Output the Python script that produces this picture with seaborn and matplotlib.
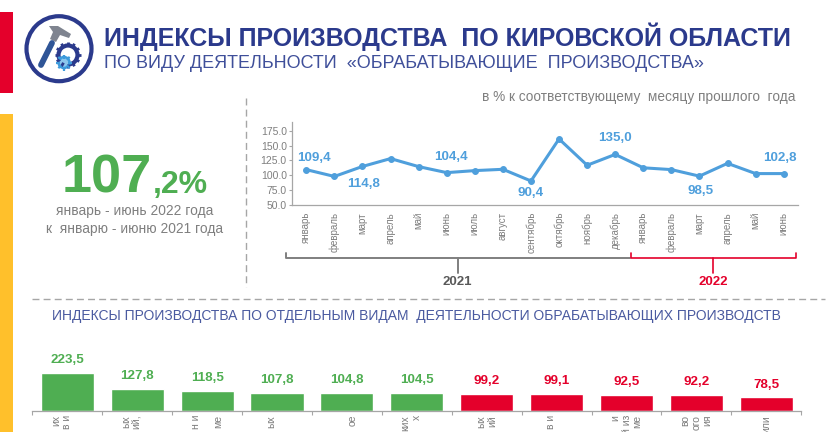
import numpy as np
import pandas as pd
import matplotlib
matplotlib.use("Agg")
import matplotlib.pyplot as plt
from matplotlib.patches import Circle, Rectangle, Polygon
import seaborn as sns

months = ["январь", "февраль", "март", "апрель", "май", "июнь", "июль", "август", "сентябрь",
          "октябрь", "ноябрь", "декабрь", "январь", "февраль", "март", "апрель", "май", "июнь"]
monthly_index = [109.4, 98.0, 114.8, 128.0, 114.5, 104.4, 107.8, 110.0, 90.4,
                 161.0, 116.8, 135.0, 112.5, 109.5, 98.5, 120.0, 102.8, 102.8]
y_ticks = [50, 75, 100, 125, 150, 175]

# the labels are cut off by the bottom edge of the picture, only these ends can be read
activity_labels = ["их\nв и\n ", "ых\nий,\n ", "н и\n \nме", "ых\n ", " \nое", "ких\nх\n ",
                   "ых\nий", "в и\n ", "и\nй из\nме", "во\nого\nия", "или"]
activity_index = [223.5, 127.8, 118.5, 107.8, 104.8, 104.5, 99.2, 99.1, 92.5, 92.2, 78.5]

NAVY = "#2B3A8C"
BLUE = "#4F9FDC"
GREEN = "#4FAE52"
RED = "#E4002B"
GRAY = "#7F7F7F"
AXIS = "#A6A6A6"

W, H = 832, 432

sns.set_theme(style="white")
plt.rcParams["font.family"] = ["Liberation Sans", "DejaVu Sans"]


def comma(v):
    return f"{v:.1f}".replace(".", ",")


def axes_px(fig, left, top, right, bottom):
    return fig.add_axes([left / W, 1 - bottom / H, (right - left) / W, (bottom - top) / H])


fig = plt.figure(figsize=(W / 100, H / 100), dpi=100)

# page layer in pixel coordinates
bg = fig.add_axes([0, 0, 1, 1])
bg.set_xlim(0, W)
bg.set_ylim(H, 0)
bg.axis("off")
bg.add_patch(Rectangle((0, 12), 13, 81, color=RED, lw=0))
bg.add_patch(Rectangle((0, 114), 13, 318, color="#FFC02B", lw=0))
bg.plot([245.5, 245.5], [98, 287], color=AXIS, lw=1, dashes=(5, 3))
bg.plot([32, 825], [298.5, 298.5], color=AXIS, lw=1, dashes=(5, 3))

# logo
bg.add_patch(Circle((59, 48.7), 32.5, fill=False, ec=NAVY, lw=3))
bg.plot([41, 52], [65, 43], color="#2F5597", lw=4.2, solid_capstyle="round")
bg.add_patch(Polygon([(49, 26), (58, 26), (71, 34), (69, 38), (60, 35), (56, 42), (50, 39), (53, 32)], color="#7F8490", lw=0))
for a in np.arange(0, 360, 30):
    r = np.radians(a)
    bg.plot([68 + 9 * np.cos(r), 68 + 13 * np.cos(r)], [55 + 9 * np.sin(r), 55 + 13 * np.sin(r)],
            color=NAVY, lw=2, solid_capstyle="butt")
bg.add_patch(Circle((68, 55), 9.5, fill=False, ec=NAVY, lw=3))
for a in np.arange(0, 360, 45):
    r = np.radians(a)
    bg.plot([64 + 4 * np.cos(r), 64 + 8 * np.cos(r)], [62.5 + 4 * np.sin(r), 62.5 + 8 * np.sin(r)],
            color="#3E9BDC", lw=1.6, solid_capstyle="butt")
bg.add_patch(Circle((64, 62.5), 5.5, fc="#8CC6EC", ec="#3E9BDC", lw=1.8))

# header
bg.text(104, 36.5, "ИНДЕКСЫ ПРОИЗВОДСТВА  ПО КИРОВСКОЙ ОБЛАСТИ", color=NAVY, fontsize=18,
        fontweight="bold", va="center", ha="left")
bg.text(104, 63.5, "ПО ВИДУ ДЕЯТЕЛЬНОСТИ  «ОБРАБАТЫВАЮЩИЕ  ПРОИЗВОДСТВА»", color="#3F4F9A", fontsize=13,
        va="center", ha="left")
bg.text(795, 97, "в % к соответствующему  месяцу прошлого  года", color=GRAY, fontsize=9.8,
        va="center", ha="right")

# big number
bg.text(62, 192.7, "107", color=GREEN, fontsize=39, fontweight="bold", va="baseline", ha="left")
bg.text(153, 192.7, ",2%", color=GREEN, fontsize=23, fontweight="bold", va="baseline", ha="left")
bg.text(135, 211.5, "январь - июнь 2022 года", color=GRAY, fontsize=9.9, va="center", ha="center")
bg.text(135, 228.5, "к  январю - июню 2021 года", color=GRAY, fontsize=9.9, va="center", ha="center")

bg.text(416, 316, "ИНДЕКСЫ ПРОИЗВОДСТВА ПО ОТДЕЛЬНЫМ ВИДАМ  ДЕЯТЕЛЬНОСТИ ОБРАБАТЫВАЮЩИХ ПРОИЗВОДСТВ",
        color="#4A5AA0", fontsize=10, va="center", ha="center")

# year brackets
bg.plot([285.7, 285.7, 630], [253, 258.3, 258.3], color=GRAY, lw=1.4)
bg.plot([457.7, 457.7], [258.3, 272.5], color=GRAY, lw=1.4)
bg.text(457.7, 282, "2021", color="#595959", fontsize=9.5, fontweight="bold", va="center", ha="center")
bg.plot([631, 631, 796, 796], [253, 258.3, 258.3, 253], color=RED, lw=1.2)
bg.plot([712.7, 712.7], [258.3, 272.5], color=RED, lw=1.2)
bg.text(713.5, 282, "2022", color=RED, fontsize=9.5, fontweight="bold", va="center", ha="center")

# monthly line
ax = axes_px(fig, 292.3, 121.7, 797.7, 205)
ax.patch.set_alpha(0)
line_df = pd.DataFrame({"pos": np.arange(len(months)), "value": monthly_index})
sns.lineplot(data=line_df, x="pos", y="value", ax=ax, color=BLUE, lw=2.2, marker="o", ms=4.2, mec=BLUE)
ax.set_xlim(-0.5, len(months) - 0.5)
ax.set_ylim(50, 190)
ax.set_xlabel("")
ax.set_ylabel("")
ax.set_xticks(np.arange(len(months)))
ax.set_xticklabels(months, rotation=90, fontsize=7, color=GRAY)
ax.set_yticks(y_ticks)
ax.set_yticklabels([f"{v:.1f}" for v in y_ticks], fontsize=7.5, color=GRAY)
ax.tick_params(axis="x", length=0, pad=5)
ax.tick_params(axis="y", length=2, width=0.8, color=AXIS, pad=2, left=True)
sns.despine(ax=ax)
for s in ["left", "bottom"]:
    ax.spines[s].set_color(AXIS)
    ax.spines[s].set_linewidth(0.9)

labelled = {0: (8, 12), 2: (1, -18), 5: (4, 15.6), 8: (0, -12.5), 11: (0, 16.5), 14: (1, -15), 17: (-4, 16)}
for i, off in labelled.items():
    ax.annotate(comma(monthly_index[i]), (i, monthly_index[i]), xytext=off, textcoords="offset pixels",
                color=BLUE, fontsize=9.6, fontweight="bold", ha="center", va="center", annotation_clip=False)

# activities bars
bx = axes_px(fig, 32.3, 340, 801.3, 410.7)
bx.patch.set_alpha(0)
bar_df = pd.DataFrame({"pos": activity_labels, "value": activity_index,
                       "group": ["up" if v > 100 else "down" for v in activity_index]})
sns.barplot(data=bar_df, x="pos", y="value", hue="group", palette={"up": GREEN, "down": RED},
            dodge=False, width=0.76, legend=False, ax=bx, saturation=1)
bx.set_xlim(-0.5, len(activity_index) - 0.5)
bx.set_ylim(0, 419)
bx.set_xlabel("")
bx.set_ylabel("")
bx.set_yticks([])
bx.set_xticks(np.arange(len(activity_index) + 1) - 0.5)
bx.set_xticklabels([])
bx.set_xticks(np.arange(len(activity_index)), minor=True)
bx.set_xticklabels(activity_labels, minor=True, rotation=90, fontsize=7.5, color=GRAY, va="top", ma="right", linespacing=1.15)
bx.tick_params(axis="x", which="major", length=3, width=0.8, color=AXIS, bottom=True)
bx.tick_params(axis="x", which="minor", length=0, pad=3)
sns.despine(ax=bx, left=True)
bx.spines["bottom"].set_color(AXIS)
bx.spines["bottom"].set_linewidth(0.9)
for cont, col in zip(bx.containers, [GREEN, RED]):
    bx.bar_label(cont, fmt=comma, color=col, fontsize=9.6, fontweight="bold", padding=5)

fig.savefig("out.png", dpi=100)
